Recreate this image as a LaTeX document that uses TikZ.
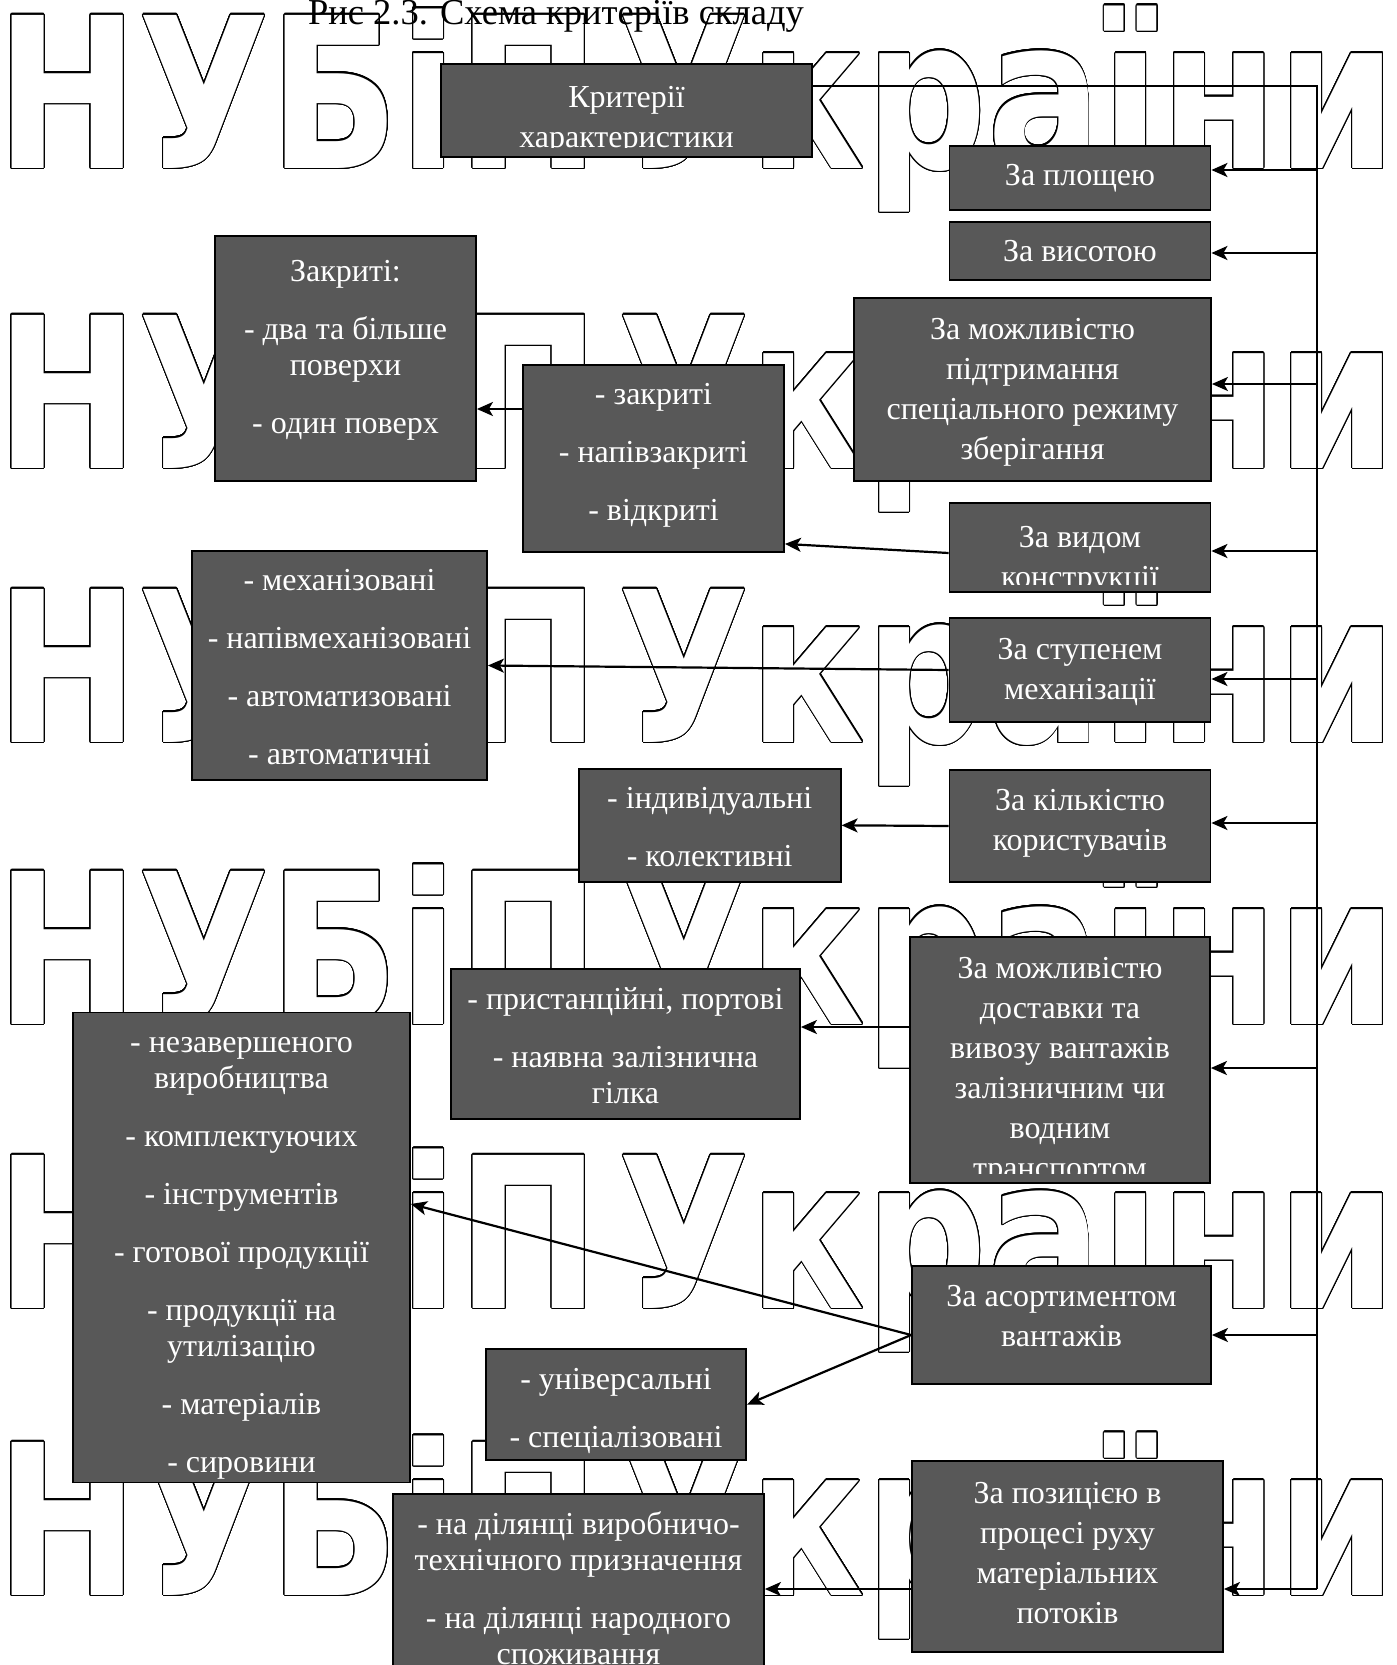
\documentclass[tikz,border=0pt]{standalone}
\usepackage{fontspec}
\usepackage{graphicx}
\usepackage[copies]{contour}
\setmainfont{Liberation Serif}
\newfontfamily\wmfont{DejaVu Sans}
\usetikzlibrary{arrows.meta}
\definecolor{boxgray}{RGB}{88,88,88}
\contourlength{1.1pt}
\contournumber{32}

\begin{document}
\begin{tikzpicture}[x=1pt, y=-1pt,
    box/.style={draw, fill=boxgray, line width=1.8pt, inner sep=0pt},
    txt/.style={text=white, align=center, inner sep=0pt,
                font=\fontsize{32}{40}\selectfont},
    txtl/.style={txt, font=\fontsize{32}{36}\selectfont},
    wmark/.style={anchor=base west, inner sep=0pt, text=white,
                  font=\wmfont\bfseries\fontsize{210}{210}\selectfont},
    link/.style={->, line width=2.2pt},
    >={Stealth[length=16pt, width=14pt, inset=4pt]}]

  \useasboundingbox (0,0) rectangle (1397,1665);
  \fill[white] (0,0) rectangle (1397,1665);

  % watermark
  \foreach \yy [count=\i] in {168,468,742,1024,1308,1595}
    \node[wmark] (wm\i) at (-4,\yy)
      {\scalebox{0.81}[1]{\contour{black}{НУБіП\hspace{23pt}України}}};

  \node[anchor=base, inner sep=0pt, font=\fontsize{36.5}{40}\selectfont] (title)
        at (556,24) {Рис 2.3. Схема критеріїв складу};

  % criteria (right column)
  \node[box, minimum width=371pt, minimum height=93pt] (kr) at (626.5,110.5) {};
  \node[box, minimum width=261pt, minimum height=64pt] (pl) at (1080,178) {};
  \node[txt] (pl-t) at (pl) {За площею};
  \node[box, minimum width=261pt, minimum height=58pt] (vs) at (1080,251) {};
  \node[txt] (vs-t) at (vs) {За висотою};
  \node[box, minimum width=357pt, minimum height=183pt] (rz) at (1032.5,389.5) {};
  \node[txt] (rz-t) at ([yshift=-3pt]rz)
        {За можливістю\\підтримання\\спеціального режиму\\зберігання};
  \node[box, minimum width=261pt, minimum height=89pt] (vk) at (1080,547.5) {};
  \node[box, minimum width=261pt, minimum height=104pt] (sm) at (1080,670) {};
  \node[txt] (sm-t) at ([yshift=-2pt]sm) {За ступенем\\механізації};
  \node[box, minimum width=261pt, minimum height=112pt] (kk) at (1080,826) {};
  \node[txt] (kk-t) at ([yshift=3pt]kk) {За кількістю\\користувачів};
  \node[box, minimum width=300pt, minimum height=246pt] (dv) at (1060,1060) {};
  \node[box, minimum width=299pt, minimum height=118pt] (as) at (1061.5,1325) {};
  \node[txt] (as-t) at ([yshift=8.5pt]as) {За асортиментом\\вантажів};
  \node[box, minimum width=311pt, minimum height=191pt] (pz) at (1067.5,1556.5) {};
  \node[txt] (pz-t) at ([yshift=3.7pt]pz)
        {За позицією в\\процесі руху\\матеріальних\\потоків};

  % texts cut by the inner margin of their boxes
  \begin{scope}
    \clip (kr.north west) rectangle ([yshift=10pt]kr.south east);
    \node[txt] (kr-t) at (626.5,120.5) {Критерії\\характеристики};
  \end{scope}
  \begin{scope}
    \clip (vk.north west) rectangle ([yshift=8pt]vk.south east);
    \node[txt] (vk-t) at (1080,560) {За видом\\конструкції};
  \end{scope}
  \begin{scope}
    \clip (dv.north west) rectangle ([yshift=10pt]dv.south east);
    \node[txt] (dv-t) at (1060,1071)
          {За можливістю\\доставки та\\вивозу вантажів\\залізничним чи\\водним\\транспортом};
  \end{scope}

  % kinds
  \node[box, minimum width=261pt, minimum height=245pt] (zk) at (345.5,358.7) {};
  \node[txtl] (zk-t) at ([yshift=8.5pt]zk)
        {Закриті:\\[22pt]- два та більше\\поверхи\\[22pt]- один поверх};
  \node[box, minimum width=261pt, minimum height=187pt] (tp) at (653.5,458.5) {};
  \node[txtl] (tp-t) at ([yshift=3pt]tp)
        {- закриті\\[22pt]- напівзакриті\\[22pt]- відкриті};
  \node[box, minimum width=295pt, minimum height=229pt] (ms) at (339.5,665.5) {};
  \node[txtl] (ms-t) at ([yshift=-2pt]ms)
        {- механізовані\\[22pt]- напівмеханізовані\\[22pt]- автоматизовані\\[22pt]- автоматичні};
  \node[box, minimum width=262pt, minimum height=113pt] (ik) at (709.7,825.3) {};
  \node[txtl] (ik-t) at ([yshift=-2pt]ik) {- індивідуальні\\[22pt]- колективні};
  \node[box, minimum width=349pt, minimum height=150pt] (pp) at (625.5,1044) {};
  \node[txtl] (pp-t) at ([yshift=-2pt]pp)
        {- пристанційні, портові\\[22pt]- наявна залізнична\\гілка};
  \node[box, minimum width=337pt, minimum height=470pt] (nz) at (241.5,1247.5) {};
  \node[txtl] (nz-t) at ([yshift=-10.6pt]nz)
        {- незавершеного\\виробництва\\[22pt]- комплектуючих\\[22pt]- інструментів\\[22pt]- готової продукції\\[22pt]- продукції на\\утилізацію\\[22pt]- матеріалів\\[22pt]- сировини};
  \node[box, minimum width=260.5pt, minimum height=111pt] (un) at (616,1404.5) {};
  \node[txtl] (un-t) at ([yshift=-6.4pt]un) {- універсальні\\[22pt]- спеціалізовані};
  \node[box, minimum width=371pt, minimum height=184pt] (dl) at (578.5,1586) {};
  \node[txtl] (dl-t) at ([yshift=-2pt]dl)
        {- на ділянці виробничо-\\технічного призначення\\[22pt]- на ділянці народного\\споживання};

  % bus on the right
  \coordinate (bus) at (1317,86);
  \coordinate (busend) at (1317,1589);
  \draw[line width=2.2pt] (kr.east |- bus) -- (bus) -- (busend);
  \foreach \nd/\dy in {pl/8, vs/-2, rz/5.5, vk/-3.5, sm/-9, kk/3, dv/-8, as/-10, pz/-32.5}
    \draw[link] ([yshift=\dy pt]\nd.east -| bus) -- ([yshift=\dy pt]\nd.east);

  % links between boxes
  \draw[link] ([yshift=49.5pt]tp.west) -- ([yshift=49.5pt]tp.west -| zk.east);
  \draw[link] ([yshift=-5.5pt]vk.west) -- ([yshift=9pt]tp.south east);
  \draw[link] (sm.west) -- (ms.east);
  \draw[link] (kk.west) -- (ik.east);
  \draw[link] ([yshift=33pt]dv.west) -- ([yshift=33pt]dv.west -| pp.east);
  \draw[link] ([yshift=-10pt]as.west) -- ([yshift=43.5pt]nz.east);
  \draw[link] ([yshift=-10pt]as.west) -- (un.east);
  \draw[link] ([yshift=-32.5pt]pz.west) -- ([yshift=-32.5pt]pz.west -| dl.east);
\end{tikzpicture}
\end{document}
